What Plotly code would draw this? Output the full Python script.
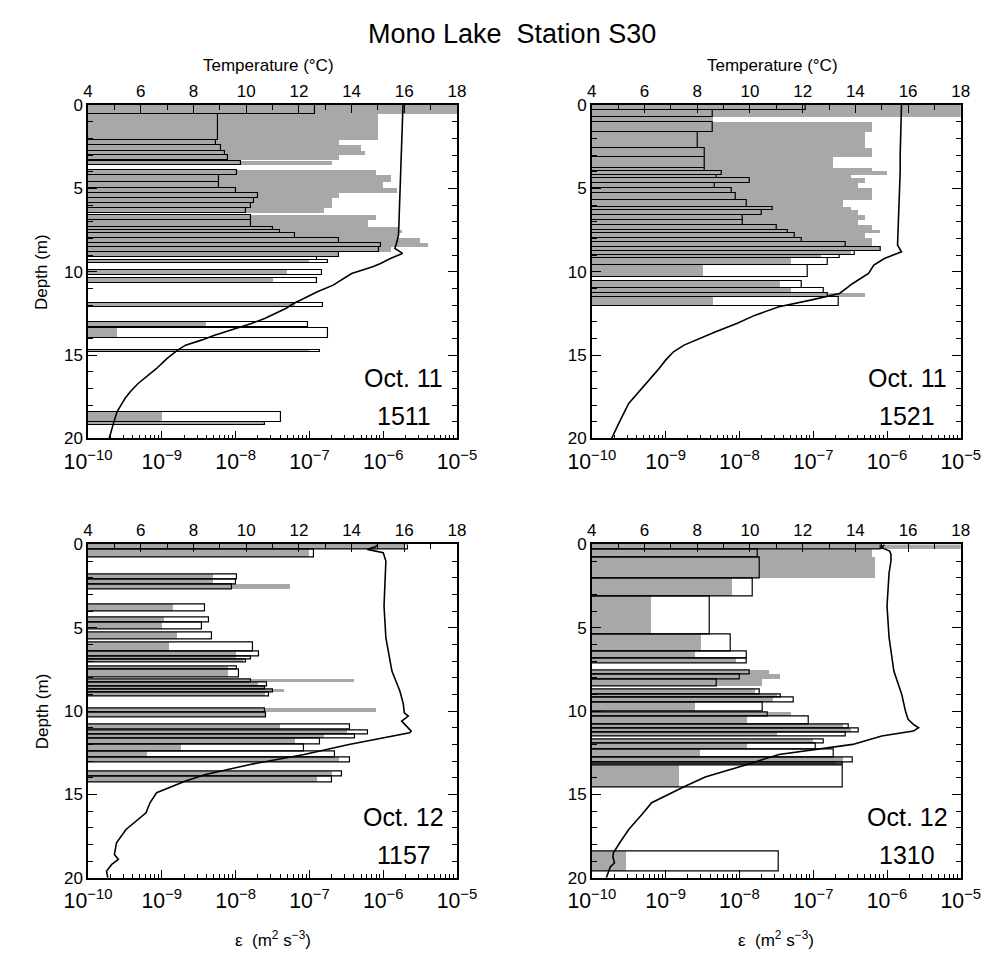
import plotly.graph_objects as go

FONT = "Liberation Sans, Arial, Helvetica, sans-serif"
W, H = 998, 977
GRAY = "#a8a8a8"
EPS0 = 1e-10  # left edge of the dissipation axis

# ---------------- data ----------------
# Panel A: Oct. 11, 1511
A_top = [0.0, 0.55, 2.1, 2.4, 2.75, 3.0, 3.35, 3.9, 4.2, 4.6, 5.0, 5.3, 5.6, 5.9, 6.2, 6.6, 6.9, 7.3, 7.5, 7.7, 8.0,
         8.3, 8.5, 8.8, 9.1, 9.3, 9.9, 10.4, 11.9, 13.0, 13.4, 14.7, 18.4, 19.0]
A_bot = [0.55, 2.1, 2.4, 2.75, 3.0, 3.3, 3.6, 4.2, 4.6, 5.0, 5.3, 5.6, 5.9, 6.2, 6.5, 6.9, 7.3, 7.5, 7.7, 8.0, 8.3,
         8.5, 8.8, 9.1, 9.3, 9.5, 10.2, 10.7, 12.1, 13.3, 14.0, 14.8, 19.0, 19.2]
A_box = [1.2e-7, 5.75e-9, 5.5e-9, 6.3e-9, 7.1e-9, 7.8e-9, 1.17e-8, 1.05e-8, 6.0e-9, 6.0e-9, 1.0e-8, 2.0e-8, 1.8e-8,
         1.6e-8, 1.4e-8, 1.6e-8, 1.6e-8, 3.2e-8, 4.0e-8, 6.3e-8, 2.5e-7, 9.3e-7, 8.9e-7, 2.5e-7, 1.26e-7, 1.8e-7,
         1.5e-7, 1.26e-7, 1.55e-7, 9.5e-8, 1.8e-7, 1.4e-7, 4.1e-8, 2.5e-8]
A_gray = [1.0e-5, 8.5e-7, 2.5e-7, 5.0e-7, 5.6e-7, 2.5e-7, 2.0e-7, 7.9e-7, 1.26e-6, 1.0e-6, 1.55e-6, 2.5e-7, 2.0e-7,
          2.0e-7, 1.6e-7, 7.9e-7, 6.3e-7, 1.6e-6, 1.8e-6, 1.6e-6, 3.2e-6, 4.0e-6, 1.26e-6, 2.5e-7, None, 1.0e-7,
          5.0e-8, 3.2e-8, 6.3e-8, 4.0e-9, 2.5e-10, 1.0e-7, 1.02e-9, 2.5e-8]
A_tdepth = [0, 1, 2, 3, 4, 5, 6, 7, 7.8, 8.3, 8.6, 8.9, 9.2, 9.5, 9.7, 10.1, 10.5, 10.8, 11.2, 11.5, 11.9, 12.2,
            12.5, 12.8, 13.1, 13.4, 13.6, 13.8, 14.1, 14.4, 14.7, 15.2, 15.8, 16.3, 16.7, 17.2, 17.6, 18.0, 18.4,
            18.9, 19.4, 20.0]
A_temp = [15.95, 15.93, 15.92, 15.9, 15.88, 15.86, 15.84, 15.8, 15.78, 15.7, 15.64, 15.93, 15.47, 15.1, 14.8, 14.0,
          13.6, 13.3, 12.7, 12.3, 11.8, 11.5, 11.1, 10.7, 10.2, 9.6, 9.2, 8.8, 8.3, 7.7, 7.4, 7.0, 6.6, 6.2, 5.9,
          5.6, 5.4, 5.25, 5.1, 5.0, 4.9, 4.8]

# Panel B: Oct. 11, 1521
B_top = [0.0, 0.3, 0.7, 1.0, 1.6, 2.6, 3.1, 3.8, 3.95, 4.2, 4.4, 4.7, 5.0, 5.3, 5.7, 6.1, 6.3, 6.6, 6.9, 7.2, 7.5,
         7.7, 8.0, 8.2, 8.5, 8.75, 9.0, 9.2, 9.6, 10.55, 11.0, 11.3, 11.5]
B_bot = [0.3, 0.7, 0.95, 1.6, 2.6, 3.1, 3.8, 3.95, 4.2, 4.4, 4.7, 5.0, 5.3, 5.7, 6.1, 6.3, 6.6, 6.9, 7.2, 7.5, 7.7,
         8.0, 8.2, 8.5, 8.75, 9.0, 9.2, 9.6, 10.3, 11.0, 11.3, 11.5, 12.05]
B_box = [7.9e-8, 4.3e-9, None, 4.3e-9, 2.75e-9, 3.4e-9, 3.4e-9, 3.4e-9, 5.75e-9, 5.0e-9, 1.4e-8, 4.7e-9, 7.9e-9,
         8.9e-9, 1.26e-8, 2.8e-8, 2.0e-8, 1.1e-8, 1.1e-8, 3.2e-8, 4.5e-8, 5.6e-8, 7.1e-8, 2.75e-7, 8.3e-7, 3.7e-7,
         2.3e-7, 1.6e-7, 8.5e-8, 7.1e-8, 1.4e-7, 1.6e-7, 2.2e-7]
B_gray = [1.0e-5, 1.0e-5, 4.3e-9, 6.3e-7, 5.0e-7, 6.3e-7, 1.86e-7, 6.3e-7, 1.0e-6, 3.2e-7, 5.0e-7, 4.0e-7, 6.3e-7,
          6.3e-7, 2.5e-7, 3.2e-7, 4.0e-7, 5.0e-7, 4.0e-7, 6.3e-7, 7.9e-7, 5.0e-7, 6.3e-7, 6.3e-7, 7.9e-7, 3.2e-7,
          1.26e-7, 5.0e-8, 3.2e-9, 3.5e-8, 5.0e-8, 5.0e-7, 4.3e-9]
B_tdepth = [0, 1, 2, 3, 4, 5, 6, 7, 8, 8.4, 8.8, 9.2, 9.6, 10.1, 10.7, 11.3, 11.7, 12.1, 12.6, 13.1, 13.6, 14.0,
            14.4, 14.8, 15.3, 15.9, 16.8, 17.9, 19.0, 20.0]
B_temp = [15.75, 15.73, 15.72, 15.7, 15.7, 15.68, 15.66, 15.64, 15.62, 15.6, 15.75, 15.1, 14.7, 14.5, 13.9, 13.4,
          12.3, 11.1, 10.2, 9.5, 8.7, 8.1, 7.5, 7.1, 6.8, 6.5, 6.0, 5.4, 5.05, 4.75]

# Panel C: Oct. 12, 1157
C_top = [0.0, 0.3, 1.8, 2.1, 2.4, 3.6, 4.4, 4.7, 5.3, 5.9, 6.4, 6.7, 6.9, 7.3, 7.5, 8.1, 8.3, 8.5, 8.7, 8.9, 9.85,
         10.1, 10.8, 11.15, 11.4, 11.65, 12.0, 12.4, 12.75, 13.6, 13.9]
C_bot = [0.3, 0.8, 2.1, 2.4, 2.7, 4.0, 4.65, 5.1, 5.7, 6.4, 6.7, 6.9, 7.1, 7.5, 8.0, 8.3, 8.5, 8.7, 8.9, 9.1, 10.1,
         10.4, 11.1, 11.4, 11.65, 12.0, 12.4, 12.75, 13.1, 13.9, 14.25]
C_box = [2.2e-6, 1.17e-7, 1.05e-8, 1.0e-8, 8.9e-9, 3.9e-9, 4.4e-9, 3.5e-9, 4.8e-9, 1.7e-8, 2.1e-8, 1.6e-8, 1.4e-8,
         1.05e-8, 1.1e-8, 1.6e-8, 2.7e-8, 2.5e-8, 3.2e-8, 2.8e-8, 2.5e-8, 2.6e-8, 3.5e-7, 6.3e-7, 4.2e-7, 1.4e-7,
         8.5e-8, 2.2e-7, 3.5e-7, 2.75e-7, 2.0e-7]
C_gray = [2.0e-6, 1.0e-7, 5.0e-9, 5.0e-9, 5.5e-8, 1.4e-9, 1.07e-9, 1.0e-9, 1.6e-9, 1.26e-9, 1.0e-8, 1.0e-8, 1.26e-8,
          7.9e-9, 7.9e-9, 4.0e-7, 2.0e-8, 2.5e-8, 4.5e-8, 2.5e-8, 7.9e-7, 2.5e-8, 4.0e-8, 3.2e-7, 1.6e-7, 6.3e-8,
          1.8e-9, 6.3e-10, 2.5e-7, 2.0e-7, 1.26e-7]
C_tdepth = [0, 0.15, 0.3, 0.5, 1, 1.7, 3.7, 5.6, 7.6, 8.8, 9.55, 10.1, 10.3, 10.6, 10.9, 11.2, 11.3, 11.6, 12.0,
            12.6, 13.2, 13.8, 14.2, 14.9, 15.5, 16.1, 17.1, 17.9, 18.6, 18.9, 19.2, 19.6, 20]
C_temp = [15.0, 14.9, 14.6, 15.2, 15.3, 15.28, 15.23, 15.3, 15.53, 15.83, 15.96, 16.0, 16.15, 15.9, 16.1, 16.26,
          16.2, 15.2, 13.9, 12.2, 10.15, 8.46, 7.7, 6.6, 6.35, 6.2, 5.44, 5.08, 5.0, 5.15, 4.9, 4.7, 4.75]

# Panel D: Oct. 12, 1310
D_top = [0.0, 0.3, 0.8, 2.05, 3.1, 5.4, 6.4, 6.85, 7.55, 7.8, 8.1, 8.7, 9.0, 9.15, 9.5, 10.1, 10.3, 10.8, 11.05,
         11.25, 11.7, 11.95, 12.3, 12.8, 13.05, 13.27, 18.4]
D_bot = [0.3, 0.8, 2.05, 3.1, 5.4, 6.4, 6.85, 7.15, 7.8, 8.1, 8.5, 9.0, 9.15, 9.5, 10.0, 10.3, 10.8, 11.05, 11.25,
         11.5, 11.95, 12.3, 12.8, 13.05, 13.2, 14.55, 19.6]
D_box = [8.3e-7, 1.8e-8, 1.9e-8, 1.5e-8, 4.0e-9, 7.6e-9, 1.26e-8, 1.26e-8, 1.4e-8, 1.0e-8, 5.0e-9, 1.9e-8, 3.6e-8,
         5.4e-8, 2.1e-8, 2.45e-8, 8.7e-8, 3.0e-7, 4.1e-7, 2.8e-7, 1.4e-7, 1.1e-7, 1.9e-7, 3.4e-7, 2.5e-7, 2.5e-7,
         3.4e-8]
D_gray = [1.0e-5, 6.3e-7, 6.8e-7, 7.9e-9, 6.3e-10, 3.0e-9, 2.5e-9, 8.9e-9, 2.5e-8, 3.5e-8, 2.0e-8, 1.6e-8, 3.2e-8,
          2.8e-8, 2.5e-9, 5.0e-8, 1.26e-8, 2.5e-7, 3.2e-7, 3.2e-8, 1.0e-7, 1.26e-8, 2.9e-9, 2.5e-7, 2.0e-7, 1.5e-9,
          2.9e-10]
D_tdepth = [0, 0.2, 0.4, 0.6, 1.0, 1.7, 3.7, 5.6, 7.6, 9.0, 10.0, 10.5, 10.8, 11.0, 11.2, 11.5, 12.0, 12.6, 13.2,
            13.96, 14.55, 15.5, 16.2, 17.1, 17.9, 18.5, 18.75, 19.1, 19.35, 19.9, 20]
D_temp = [15.1, 15.0, 15.3, 15.35, 15.35, 15.28, 15.2, 15.28, 15.46, 15.76, 15.9, 16.0, 16.2, 16.4, 16.2, 15.0,
          13.9, 11.1, 9.9, 8.3, 7.48, 6.27, 5.9, 5.4, 5.06, 4.82, 4.8, 4.86, 4.7, 4.58, 4.55]

panel_dates = ["Oct. 11", "Oct. 11", "Oct. 12", "Oct. 12"]
panel_times = ["1511", "1521", "1157", "1310"]

panels = [
    (A_top, A_bot, A_box, A_gray, A_tdepth, A_temp),
    (B_top, B_bot, B_box, B_gray, B_tdepth, B_temp),
    (C_top, C_bot, C_box, C_gray, C_tdepth, C_temp),
    (D_top, D_bot, D_box, D_gray, D_tdepth, D_temp),
]

# ---------------- layout geometry (pixels) ----------------
boxes = [(67, 453, 98, 438), (594, 980, 98, 438), (67, 453, 546, 886), (594, 980, 546, 886)]


def px(x):
    return x / W


def py(y):
    return 1 - y / H


fig = go.Figure()
layout = dict(
    width=W, height=H, margin=dict(l=0, r=0, t=0, b=0), autosize=False,
    paper_bgcolor="white", plot_bgcolor="white", showlegend=False,
    barmode="overlay", bargap=0,
    font=dict(family=FONT, size=16, color="black"),
)

log_font = dict(family=FONT, size=17, color="black")
temp_font = dict(family=FONT, size=17, color="black")
depth_font = dict(family=FONT, size=17, color="black")
annotations = []

for i, (top, bot, box, gray, tdep, temp) in enumerate(panels):
    n = i + 1
    xl = "x%d" % (2 * n - 1)
    xt = "x%d" % (2 * n)
    yy = "y%d" % n
    L, R, T, B = boxes[i]

    # gray bars
    gy, gx, gw = [], [], []
    for t, b, g in zip(top, bot, gray):
        if g is not None:
            gy.append((t + b) / 2)
            gx.append(g - EPS0)
            gw.append(b - t)
    fig.add_trace(go.Bar(orientation="h", y=gy, x=gx, base=EPS0, width=gw,
                         marker=dict(color=GRAY, line=dict(width=0)),
                         xaxis=xl, yaxis=yy, hoverinfo="skip"))
    # outlined bars
    oy, ox, ow = [], [], []
    for t, b, e in zip(top, bot, box):
        if e is not None:
            oy.append((t + b) / 2)
            ox.append(e - EPS0)
            ow.append(b - t)
    fig.add_trace(go.Bar(orientation="h", y=oy, x=ox, base=EPS0, width=ow,
                         marker=dict(color="rgba(0,0,0,0)", line=dict(color="black", width=1.2)),
                         xaxis=xl, yaxis=yy, hoverinfo="skip"))
    # temperature profile
    fig.add_trace(go.Scatter(x=temp, y=tdep, mode="lines", line=dict(color="black", width=1.6),
                             xaxis=xt, yaxis=yy, hoverinfo="skip"))

    xdom = [px(L), px(R)]
    ydom = [py(B), py(T)]
    layout["xaxis%d" % (2 * n - 1)] = dict(
        domain=xdom, anchor=yy, type="log", range=[-10, -5], dtick=1, exponentformat="power",
        showgrid=False, zeroline=False, showline=True, linecolor="black", linewidth=1.5,
        ticks="inside", ticklen=8, tickcolor="black", tickwidth=1, tickfont=log_font,
        ticklabelstandoff=4,
        minor=dict(ticks="inside", ticklen=4, dtick="D1", tickcolor="black", showgrid=False),
    )
    layout["xaxis%d" % (2 * n)] = dict(
        overlaying=xl, anchor=yy, side="top", range=[4, 18], dtick=2, tick0=4,
        showgrid=False, zeroline=False, showline=True, linecolor="black", linewidth=1.5,
        ticks="inside", ticklen=8, tickcolor="black", tickwidth=1, tickfont=temp_font,
        minor=dict(ticks="inside", ticklen=5, dtick=1, tickcolor="black", showgrid=False),
    )
    layout["yaxis%d" % n] = dict(
        domain=ydom, anchor=xl, range=[20, 0], tickvals=[0, 5, 10, 15, 20],
        showgrid=False, zeroline=False, showline=True, linecolor="black", linewidth=1.5, mirror="ticks",
        ticks="inside", ticklen=9, tickcolor="black", tickwidth=1, tickfont=depth_font,
        minor=dict(ticks="inside", ticklen=5, dtick=1, tickcolor="black", showgrid=False),
    )

    cx = L + 0.855 * (R - L)
    annotations.append(dict(text=panel_dates[i], x=px(cx), y=py(T + 278), xref="paper", yref="paper",
                            showarrow=False, xanchor="center", yanchor="middle",
                            font=dict(family=FONT, size=25, color="black")))
    annotations.append(dict(text=panel_times[i], x=px(cx), y=py(T + 317), xref="paper", yref="paper",
                            showarrow=False, xanchor="center", yanchor="middle",
                            font=dict(family=FONT, size=25, color="black")))
    midx = (L + R) / 2
    if n <= 2:
        annotations.append(dict(text="Temperature (°C)", x=px(midx - 4), y=py(58), xref="paper", yref="paper",
                                showarrow=False, xanchor="center", yanchor="middle",
                                font=dict(family=FONT, size=17, color="black")))
    else:
        annotations.append(dict(text="ε  (m<sup>2</sup> s<sup>−3</sup>)", x=px(midx), y=py(948),
                                xref="paper", yref="paper", showarrow=False, xanchor="center",
                                yanchor="middle", font=dict(family=FONT, size=17, color="black")))
    if n in (1, 3):
        annotations.append(dict(text="Depth (m)", x=px(19), y=py((T + B) / 2), xref="paper", yref="paper",
                                showarrow=False, textangle=-90, xanchor="center", yanchor="middle",
                                font=dict(family=FONT, size=17, color="black")))

annotations.append(dict(text="Mono Lake\u00a0 Station S30", x=px(510), y=py(25), xref="paper", yref="paper",
                        showarrow=False, xanchor="center", yanchor="middle",
                        font=dict(family=FONT, size=27, color="black")))
layout["annotations"] = annotations
fig.update_layout(**layout)
fig.write_html("out.html")
